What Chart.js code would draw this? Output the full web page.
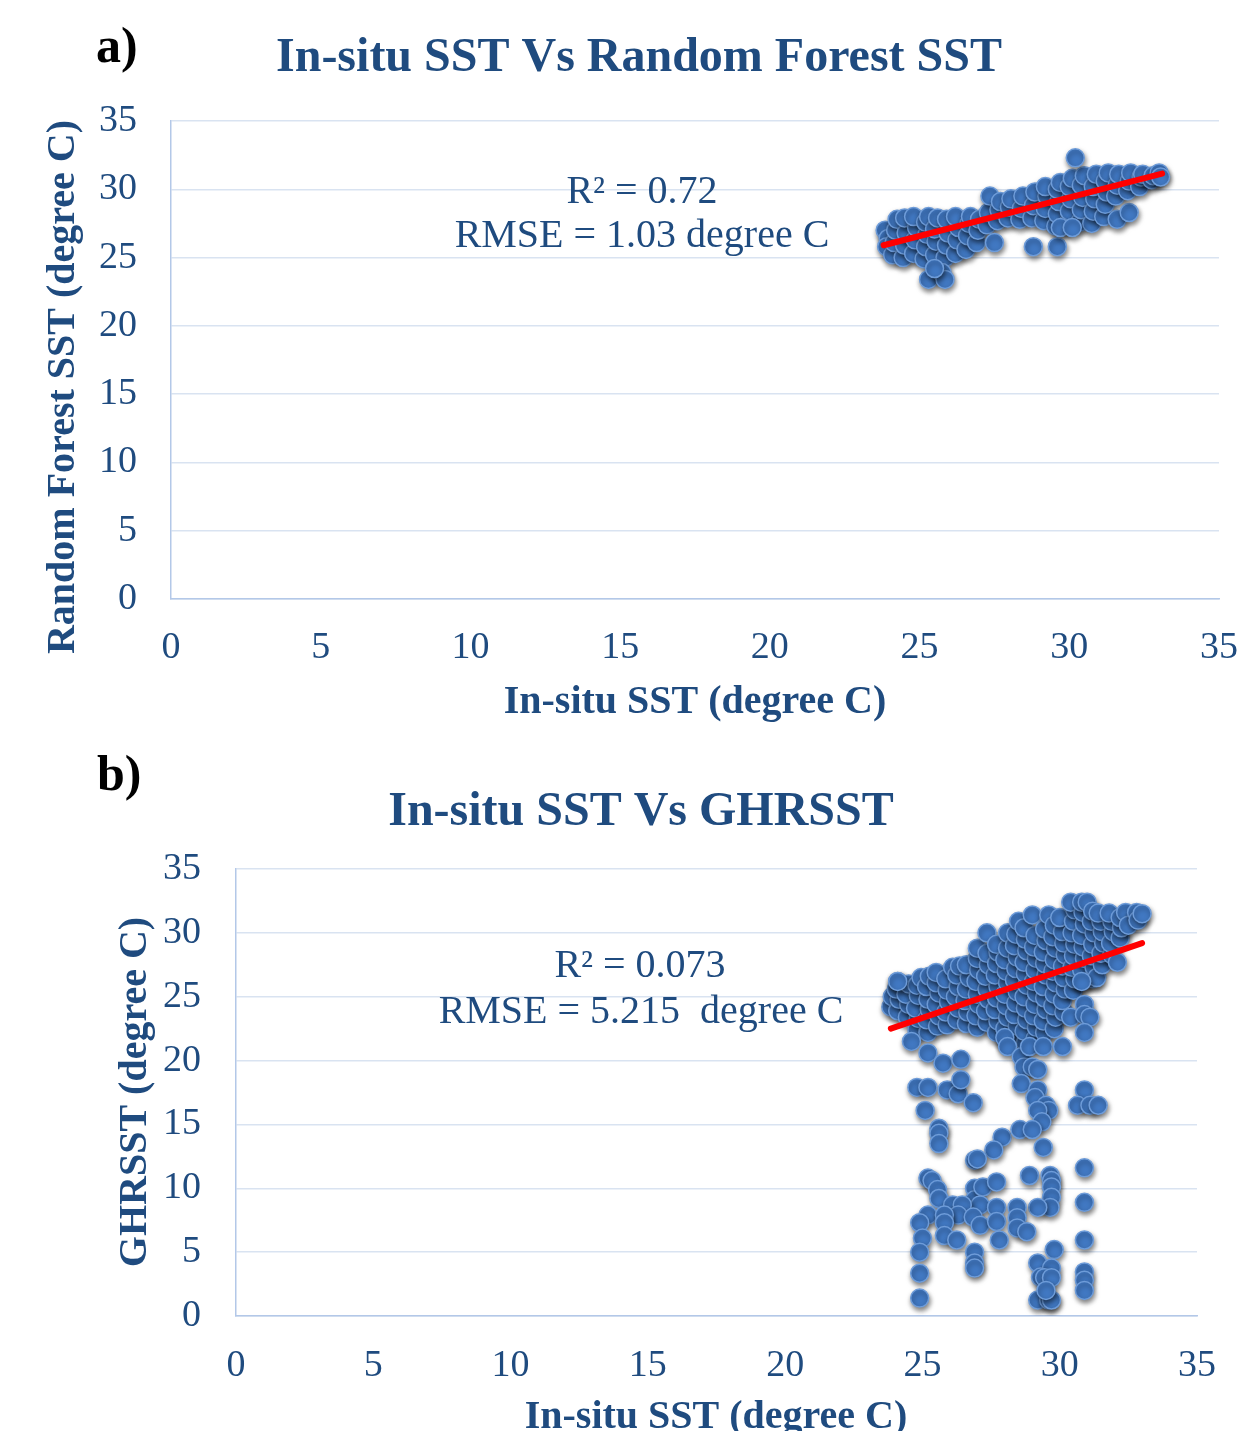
<!DOCTYPE html>
<html>
<head>
<meta charset="utf-8">
<script src="https://cdn.jsdelivr.net/npm/chart.js@4.4.0/dist/chart.umd.min.js"></script>
<style>
  body { margin: 0; background: #fff; }
  canvas { position: absolute; left: 0; }
  #chartA { top: 0; }
  #chartB { top: 730px; }
</style>
</head>
<body>
<canvas id="chartA" width="1237" height="730"></canvas>
<canvas id="chartB" width="1237" height="701"></canvas>
<script>
// a) in-situ SST vs random forest SST  [in-situ, predicted]
var rfBand = [
  [23.85,27.0],[23.95,26.4],[23.9,25.8],
  [24.1,25.2],[24.15,26.1],[24.2,27.0],[24.25,27.8],
  [24.45,25.0],[24.5,25.9],[24.55,26.8],[24.5,27.9],
  [24.8,25.3],[24.85,26.3],[24.9,27.2],[24.8,28.0],
  [25.15,24.9],[25.2,25.8],[25.25,26.7],[25.2,27.6],[25.3,28.0],
  [25.5,25.2],[25.55,26.2],[25.5,27.1],[25.6,27.9],
  [25.85,25.0],[25.9,25.9],[25.95,26.8],[25.9,27.8],
  [26.2,25.3],[26.25,26.3],[26.3,27.2],[26.2,28.0],
  [26.55,25.6],[26.6,26.6],[26.65,27.5],[26.7,28.0],
  [26.9,26.1],[26.95,27.0],[27.0,27.8],
  [27.25,27.4],[27.3,28.3],[27.35,29.5],
  [27.6,27.7],[27.65,28.5],[27.7,29.1],
  [27.95,27.9],[28.0,28.7],[28.05,29.3],
  [28.35,27.8],[28.4,28.6],[28.45,29.5],
  [28.75,27.9],[28.8,28.8],[28.85,29.8],
  [29.15,27.7],[29.2,28.6],[29.25,29.5],[29.2,30.2],
  [29.55,27.3],[29.6,28.2],[29.65,29.1],[29.6,30.0],[29.7,30.5],
  [29.95,27.5],[30.0,28.4],[30.05,29.3],[30.0,30.2],[30.1,30.8],
  [30.35,27.6],[30.4,28.5],[30.45,29.4],[30.4,30.3],[30.5,31.0],
  [30.75,27.5],[30.8,28.4],[30.85,29.3],[30.8,30.2],[30.9,31.1],
  [31.15,28.0],[31.2,28.9],[31.25,29.8],[31.2,30.6],[31.3,31.2],
  [31.6,27.8],[31.55,29.5],[31.6,30.3],[31.65,31.1],
  [32.0,28.3],[31.95,29.9],[32.0,30.6],[32.05,31.2],
  [32.35,30.2],[32.4,30.9],[32.45,31.1],
  [32.75,30.7],[32.8,31.0],
  [33.0,31.2],[33.05,30.9]
];
var rfOutliers = [
  [25.3,23.4],[25.75,23.9],[25.85,23.4],[25.5,24.2],[27.5,26.1],
  [28.8,25.8],[29.6,25.8],[30.2,32.3],[29.7,27.2],[30.1,27.2]
];
var rfTrend = [[23.8,25.9],[33.1,31.15]];

// b) in-situ SST vs GHRSST
var ghCluster = [
  [23.85,24.2],[23.9,25.0],
  [24.1,23.9],[24.15,24.8],[24.05,25.6],[24.1,26.2],
  [24.45,23.4],[24.5,24.4],[24.4,25.2],[24.5,26.0],
  [24.8,22.4],[24.85,23.3],[24.75,24.1],[24.85,25.1],[24.8,25.9],[24.95,26.5],
  [25.2,22.2],[25.15,23.2],[25.25,24.0],[25.2,24.8],[25.15,25.8],[25.25,26.6],
  [25.55,22.7],[25.6,23.5],[25.5,24.4],[25.6,25.3],[25.5,26.1],[25.5,26.9],
  [25.9,22.8],[25.85,23.8],[25.95,24.6],[25.9,25.5],[25.85,26.4],[26.1,27.3],
  [26.25,23.2],[26.3,24.1],[26.2,25.0],[26.3,25.8],[26.25,26.7],[26.35,27.4],
  [26.6,22.9],[26.65,23.8],[26.55,24.7],[26.6,25.6],[26.7,26.5],[26.6,27.5],
  [27.0,22.6],[26.95,23.5],[27.05,24.4],[27.0,25.2],[26.95,26.2],[27.05,27.1],[27.0,28.0],[27.0,28.8],
  [27.35,23.0],[27.3,23.9],[27.4,24.8],[27.35,25.6],[27.3,26.6],[27.4,27.5],[27.35,28.4],[27.35,30.0],
  [27.7,22.2],[27.75,23.1],[27.65,24.0],[27.7,24.9],[27.75,25.8],[27.65,26.7],[27.7,27.6],[27.75,28.5],[27.7,29.1],
  [28.05,21.6],[28.0,22.5],[28.1,23.4],[28.05,24.3],[28.0,25.2],[28.1,26.1],[28.05,27.0],[28.0,27.9],[28.1,28.8],[28.1,30.0],
  [28.4,21.8],[28.45,22.7],[28.35,23.6],[28.4,24.5],[28.45,25.4],[28.35,26.3],[28.4,27.2],[28.45,28.1],[28.35,29.0],[28.4,29.9],[28.5,30.9],
  [28.75,21.4],[28.7,22.3],[28.8,23.2],[28.75,24.1],[28.7,25.0],[28.8,25.9],[28.75,26.8],[28.7,27.7],[28.8,28.6],[28.75,29.5],[28.7,30.4],
  [29.1,21.7],[29.15,22.6],[29.05,23.5],[29.1,24.4],[29.15,25.3],[29.05,26.2],[29.1,27.1],[29.15,28.0],[29.05,28.9],[29.1,29.8],[29.0,31.4],
  [29.45,22.2],[29.4,23.1],[29.5,24.0],[29.45,24.9],[29.4,25.8],[29.5,26.7],[29.45,27.6],[29.4,28.5],[29.5,29.4],[29.45,30.3],[29.6,31.4],
  [29.8,22.5],[29.85,23.4],[29.75,24.3],[29.8,25.2],[29.85,26.1],[29.75,27.0],[29.8,27.9],[29.85,28.8],[29.75,29.7],[29.8,30.6],
  [30.15,23.8],[30.1,24.7],[30.2,25.6],[30.15,26.5],[30.1,27.4],[30.2,28.3],[30.15,29.2],[30.1,30.1],[30.0,31.2],
  [30.5,25.5],[30.55,26.4],[30.45,27.3],[30.5,28.2],[30.55,29.1],[30.45,30.0],[30.5,30.9],[30.55,31.8],[30.4,32.4],
  [30.85,26.2],[30.8,27.1],[30.9,28.0],[30.85,28.9],[30.8,29.8],[30.9,30.7],[30.85,31.6],[30.8,32.4],[31.0,32.4],
  [31.2,26.4],[31.25,27.3],[31.15,28.2],[31.2,29.1],[31.25,30.0],[31.15,30.9],[31.2,31.7],
  [31.35,26.5],[31.55,27.5],[31.5,28.4],[31.6,29.2],[31.55,30.1],[31.5,30.9],[31.4,31.55],
  [31.9,28.3],[31.85,29.2],[31.95,30.1],[31.9,30.9],[31.8,31.55],
  [32.1,27.7],[32.2,29.6],[32.25,30.4],[32.2,31.2],[32.4,31.6],
  [32.5,30.6],[32.8,31.6],[32.85,31.0],[33.0,31.5],
  [30.8,26.2],[24.1,26.2]
];
var ghScatter = [
  [24.6,21.5],[25.2,20.6],[25.75,19.8],[26.4,20.1],[24.8,17.9],[25.2,17.9],[25.9,17.7],[26.3,17.4],
  [26.4,18.5],[26.85,16.7],[25.1,16.1],[25.6,14.7],[25.6,14.3],[25.6,13.5],[27.9,14.0],[27.6,13.0],
  [26.9,12.2],[27.0,12.3],
  [28.0,21.8],[28.1,21.1],[28.6,20.3],[28.7,19.5],[28.9,21.1],[29.4,21.1],[29.0,19.5],[29.2,19.3],
  [28.6,18.2],[29.2,17.7],[29.1,17.1],[29.5,16.5],[29.6,16.1],[29.2,16.1],[29.35,15.2],[28.55,14.6],
  [29.0,14.6],[29.4,13.2],
  [30.9,24.4],[30.4,23.4],[30.9,23.6],[31.1,23.4],[30.9,22.2],[30.1,21.1],[30.9,17.7],[30.65,16.5],
  [31.1,16.5],[31.4,16.5],
  [30.9,11.6],[28.9,11.0],[29.65,11.0],[29.7,10.6],[29.7,10.1],[29.7,9.3],[29.65,8.5],[29.2,8.5],[30.9,8.9],
  [25.2,10.8],[25.35,10.6],[25.55,9.9],[25.6,9.2],[26.9,10.0],[26.9,9.1],[27.2,10.1],[27.1,8.7],
  [27.7,10.5],[26.1,8.7],[26.45,8.7],[26.3,7.9],[25.2,7.9],[25.8,7.9],[25.8,7.3],[26.85,7.75],
  [27.1,7.1],[27.7,8.5],[27.7,7.4],[28.45,8.5],[28.45,7.7],[28.45,6.9],[28.8,6.6],[24.9,7.3],
  [25.0,6.1],[25.8,6.3],[26.25,5.95],[27.8,5.95],[24.9,5.0],[26.9,5.0],[26.9,4.15],[26.9,3.75],
  [29.8,5.2],[30.9,5.95],[29.2,4.15],[29.7,3.75],[29.3,3.05],[29.45,3.0],[29.7,3.0],[30.9,3.45],
  [30.9,2.8],[30.9,2.0],[24.9,3.35],[24.9,1.4],[29.2,1.25],[29.6,1.25],[29.7,1.25],[29.5,2.0]
];
var ghTrend = [[23.85,22.5],[33.0,29.2]];

var axisTicks = [0, 5, 10, 15, 20, 25, 30, 35];

var serif = "'Liberation Serif', 'Times New Roman', serif";
var navy = "#1f4b7f";

function toXY(list) {
  return list.map(function (p) { return { x: p[0], y: p[1] }; });
}

var shadowPlugin = {
  id: "shadow",
  beforeDatasetDraw: function (chart, args) {
    if (args.index !== 1) return;
    var c = chart.ctx;
    c.save();
    c.shadowColor = "rgba(0,0,0,0.5)";
    c.shadowBlur = 5;
    c.shadowOffsetX = 1;
    c.shadowOffsetY = 3;
  },
  afterDatasetDraw: function (chart, args) {
    if (args.index === 1) chart.ctx.restore();
  }
};

var textPlugin = {
  id: "texts",
  afterDraw: function (chart, args, opts) {
    var c = chart.ctx;
    opts.items.forEach(function (t) {
      c.save();
      c.font = t.font;
      c.fillStyle = t.color || navy;
      c.textAlign = t.align || "center";
      c.textBaseline = "alphabetic";
      if (t.rotate) {
        c.translate(t.x, t.y);
        c.rotate(-Math.PI / 2);
        c.fillText(t.text, 0, 0);
      } else {
        c.fillText(t.text, t.x, t.y);
      }
      c.restore();
    });
  }
};

function makeChart(id, points, trend, size, texts) {
  var ctx = document.getElementById(id).getContext("2d");
  return new Chart(ctx, {
    type: "scatter",
    data: {
      datasets: [{
        data: toXY(trend),
        showLine: true,
        borderColor: "#ff0000",
        borderWidth: 6,
        borderCapStyle: "round",
        pointRadius: 0,
        order: 0
      }, {
        data: toXY(points),
        backgroundColor: "#4178c2",
        borderColor: "#6e9cd9",
        borderWidth: 1.5,
        pointRadius: 9,
        order: 1
      }]
    },
    options: {
      responsive: false,
      animation: false,
      layout: { padding: { left: 0, right: size.right, top: size.top, bottom: 0 } },
      plugins: {
        legend: { display: false },
        tooltip: { enabled: false },
        texts: { items: texts }
      },
      scales: {
        x: {
          type: "linear", min: 0, max: 35,
          afterBuildTicks: function (s) { s.ticks = axisTicks.map(function (v) { return { value: v }; }); },
          ticks: { font: { family: serif, size: 38 }, color: navy, padding: size.xp, maxRotation: 0 },
          grid: { display: false, drawTicks: false },
          border: { color: "#b3c8e8", width: 1.5 },
          afterFit: function (s) { s.height = size.xh; s.paddingLeft = 0; s.paddingRight = 0; }
        },
        y: {
          type: "linear", min: 0, max: 35,
          afterBuildTicks: function (s) { s.ticks = axisTicks.map(function (v) { return { value: v }; }); },
          ticks: { font: { family: serif, size: 38 }, color: navy, padding: size.tp },
          grid: { color: "#d9e3f1", lineWidth: 1.5, drawTicks: false },
          border: { color: "#b3c8e8", width: 1.5 },
          afterFit: function (s) { s.width = size.yw; s.paddingTop = 0; s.paddingBottom = 0; }
        }
      }
    },
    plugins: [shadowPlugin, textPlugin]
  });
}

makeChart("chartA", rfBand.concat(rfOutliers), rfTrend,
  { top: 121, right: 18, xh: 131, yw: 171, tp: 34, xp: 26 },
  [
    { text: "a)", x: 96, y: 62, font: "bold 50px " + serif, color: "#000", align: "left" },
    { text: "In-situ SST Vs Random Forest SST", x: 639, y: 71, font: "bold 48px " + serif },
    { text: "R² = 0.72", x: 642, y: 203, font: "40px " + serif },
    { text: "RMSE = 1.03 degree C", x: 642, y: 247, font: "40px " + serif },
    { text: "In-situ SST (degree C)", x: 695, y: 713, font: "bold 40px " + serif },
    { text: "Random Forest SST (degree C)", x: 74, y: 387, font: "bold 40px " + serif, rotate: true }
  ]);

makeChart("chartB", ghCluster.concat(ghScatter), ghTrend,
  { top: 139, right: 40, xh: 115, yw: 236, tp: 35, xp: 27 },
  [
    { text: "b)", x: 97, y: 60, font: "bold 50px " + serif, color: "#000", align: "left" },
    { text: "In-situ SST Vs GHRSST", x: 641, y: 95, font: "bold 48px " + serif },
    { text: "R² = 0.073", x: 640, y: 247, font: "40px " + serif },
    { text: "RMSE = 5.215  degree C", x: 641, y: 293, font: "40px " + serif },
    { text: "In-situ SST (degree C)", x: 716, y: 698, font: "bold 40px " + serif },
    { text: "GHRSST (degree C)", x: 146, y: 362, font: "bold 40px " + serif, rotate: true }
  ]);
</script>
</body>
</html>
